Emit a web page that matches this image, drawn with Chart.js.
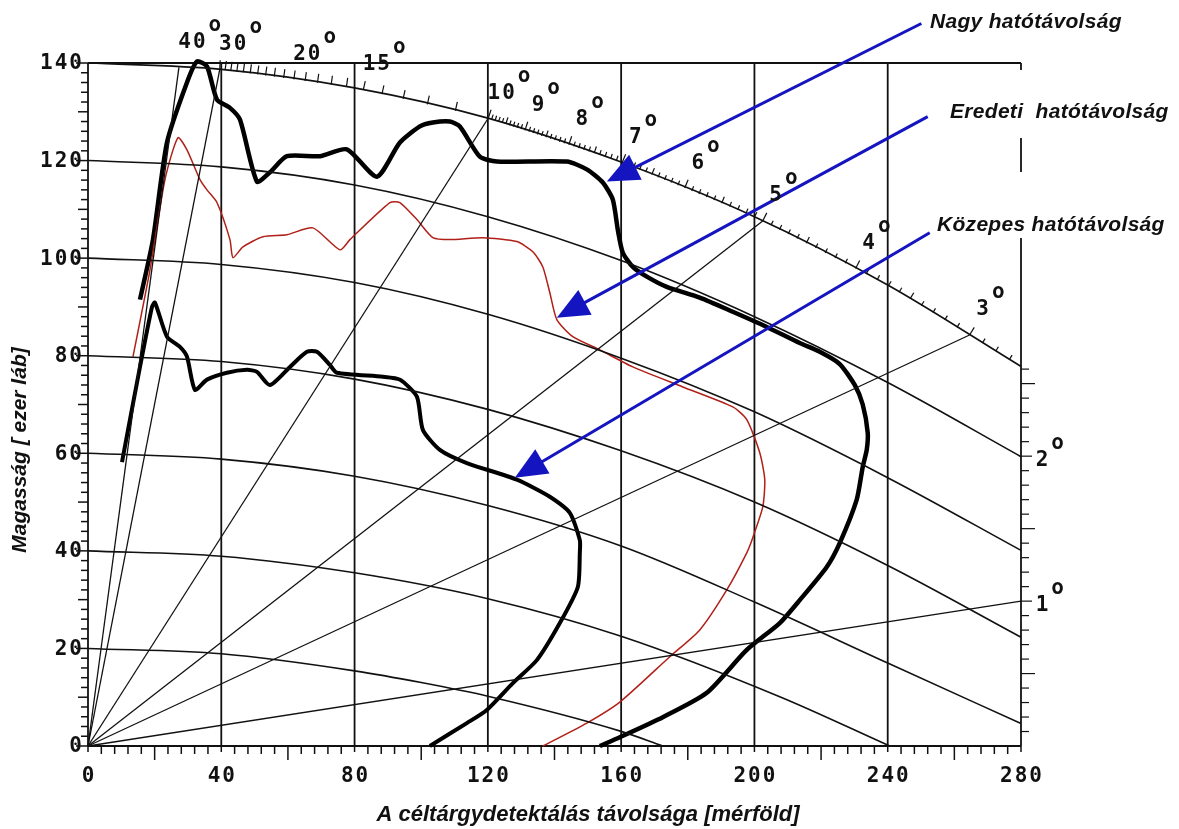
<!DOCTYPE html>
<html lang="hu">
<head>
<meta charset="UTF-8">
<title>Radar lefedettség</title>
<script src="https://cdn.jsdelivr.net/npm/chart.js"></script>
<style>
    html, body { margin: 0; padding: 0; background: #fff; }
    #wrap { width: 1179px; height: 829px; }
</style>
</head>
<body>
<div id="wrap"><canvas id="chart" width="1179" height="829"></canvas></div>
<script>
// axis tick labels
const xTicks = [0, 40, 80, 120, 160, 200, 240, 280];
const yTicks = [0, 20, 40, 60, 80, 100, 120, 140];

// constant height lines (ezer láb) as [range, plotted height]
const height20  = [[0, 20], [40, 18.9], [80, 15.4], [100, 13.0], [120, 10.2], [160, 3.0], [172.5, 0]];
const height40  = [[0, 40], [40, 38.9], [80, 35.5], [120, 30.2], [160, 22.5], [207.6, 10.1], [240.6, 0]];
const height60  = [[0, 60], [40, 58.8], [80, 55.3], [120, 49.3], [160, 41], [200, 29.5], [240, 17], [280, 4.6]];
const height80  = [[0, 80], [40, 78.8], [80, 75.2], [120, 69], [160, 60.5], [200, 50], [240, 37], [280, 22.3]];
const height100 = [[0, 100], [40, 98.7], [80, 95], [120, 88.5], [160, 79.5], [200, 68.5], [240, 55], [280, 40.1]];
const height120 = [[0, 120], [40, 118.7], [80, 115], [120, 108.5], [160, 99.5], [200, 88], [240, 74.5], [280, 59.3]];
const height140 = [[0, 140], [40, 138.7], [80, 134.9], [120, 128.7], [160, 119.7], [200, 108.5], [240, 94.5], [280, 77.8]];

// elevation rays drawn through the chart, and the labelled angles
const rayAngles = [1, 3, 5, 10, 30, 40];
const arcAngleLabels = [40, 30, 20, 15, 10, 9, 8, 7, 6, 5, 4, 3];
const edgeAngleLabels = [2, 1];

// coverage curves [range, height]
const nagyRange = [[15.6, 91.5], [19.5, 103.8], [23.7, 123.7], [29.7, 136], [32.7, 140.3], [35.7, 139.3],
    [38.7, 132.5], [42.6, 130.8], [45.6, 128.4], [50.7, 115.7], [54.6, 117.6], [59.7, 120.9], [69.6, 120.9],
    [77.7, 122.3], [86.7, 116.7], [93.6, 123.7], [99.6, 127], [103.5, 127.8], [108.6, 128], [111.6, 127],
    [117.6, 120.8], [122.7, 119.8], [143.7, 119.8], [149.7, 118.2], [154.5, 115.5], [157.5, 112],
    [159, 105.8], [160.5, 101.1], [163.5, 98.2], [167.7, 96.2], [173.7, 94.1], [183.6, 91.9], [193.5, 89],
    [203.7, 85.9], [213.6, 82.6], [219.6, 80.8], [225.6, 78.3], [230.1, 74], [232.5, 70], [234, 64.2],
    [233.7, 60.7], [232.5, 57.2], [230.7, 50.5], [225.6, 41.6], [221.7, 36.7], [213.6, 29.9], [207.6, 25.2],
    [197.7, 19.7], [185.7, 10.9], [172.5, 5.9], [159.6, 1.8], [153.6, 0]];
const eredetiRange = [[13.5, 79.8], [18.6, 97.6], [23.1, 116.1], [27, 124.7], [29.7, 122.2], [33.6, 116.1],
    [35.7, 114], [38.7, 111.4], [42.6, 103.8], [43.5, 100.1], [46.5, 102.3], [52.5, 104.4], [59.7, 104.8],
    [67.5, 106.2], [75.6, 101.7], [78.6, 103.8], [90.6, 111.4], [93.6, 111.4], [98.7, 107.9], [103.5, 104.2],
    [108.6, 103.8], [118.5, 104.2], [128.7, 103.4], [133.5, 101.3], [136.5, 98.2], [138.6, 92.9],
    [140.7, 87.4], [145.5, 83.9], [153.6, 81.2], [163.5, 77.7], [178.5, 73.6], [193.5, 69.5], [197.7, 66.9],
    [201.6, 60.1], [203.1, 54.6], [202.5, 49], [199.5, 42.7], [197.7, 39.6], [191.7, 32], [183.6, 23.8],
    [174.6, 18.3], [159.6, 9], [149.7, 4.7], [136.5, 0]];
const kozepesRange = [[10.2, 58.2], [15.6, 77.7], [19.2, 90], [20.1, 90.9], [23.7, 83.9], [27.6, 81.8],
    [29.7, 79.8], [32.1, 73], [35.7, 75.1], [41.7, 76.5], [47.7, 77.1], [50.7, 76.7], [54.6, 74], [60.6, 77.7],
    [65.7, 80.8], [68.7, 80.8], [72.6, 78.1], [74.7, 76.5], [88.5, 75.7], [93.6, 75.1], [98.7, 71.6],
    [100.5, 64.8], [105.6, 60.7], [113.7, 58], [128.7, 54.6], [138.6, 51.1], [144.6, 47.8], [147.6, 42.2],
    [147.6, 39.6], [147, 32.6], [141.6, 25.2], [134.7, 17.6], [127.5, 12.9], [119.7, 7.4], [113.7, 4.7],
    [102.6, 0]];

// callouts: text, arrow tail and tip in chart units
const callouts = [
    { text: 'Nagy hatótávolság', left: 930, mid: 22, tail: [250.1, 148.1], tip: [155.7, 115.7], clear: null },
    { text: 'Eredeti  hatótávolság', left: 950, mid: 112, tail: [252, 129], tip: [140.7, 87.8], clear: [-42, 26] },
    { text: 'Közepes hatótávolság', left: 937, mid: 225, tail: [252.6, 105.2], tip: [128.1, 55], clear: [-53, 13] }
];

const KFT_PER_MILE = 6.076;
const TICK_FONT = 'bold 21px "DejaVu Sans Mono"';
const TITLE_FONT = 'bold italic 22px "Liberation Sans"';
const YTITLE_FONT = 'bold italic 21px "Liberation Sans"';
const NOTE_FONT = 'bold italic 21px "Liberation Sans"';
const BLUE = '#1414c0';

const toPts = arr => arr.map(p => ({ x: p[0], y: p[1] }));

// where an elevation ray meets the 140 line (or the right edge)
function rayEnd(deg) {
    const k = Math.tan(deg * Math.PI / 180) * KFT_PER_MILE;
    for (let i = 0; i < height140.length - 1; i++) {
        const [x0, y0] = height140[i], [x1, y1] = height140[i + 1];
        const f0 = y0 - k * x0, f1 = y1 - k * x1;
        if (f0 >= 0 && f1 < 0) {
            const t = f0 / (f0 - f1);
            const xv = x0 + t * (x1 - x0);
            return { x: xv, y: k * xv, seg: i, onArc: true };
        }
    }
    return { x: 280, y: k * 280, seg: -1, onArc: false };
}

const datasets = [];
[height20, height40, height60, height80, height100, height120, height140].forEach(h => {
    datasets.push({ data: toPts(h), borderColor: '#111', borderWidth: 1.6, pointRadius: 0,
        cubicInterpolationMode: 'monotone', clip: false });
});
rayAngles.forEach(a => {
    const e = rayEnd(a);
    datasets.push({ data: [{ x: 0, y: 0 }, { x: e.x, y: e.y }], borderColor: '#111', borderWidth: 1.3,
        pointRadius: 0, clip: false });
});
datasets.push({ data: toPts(eredetiRange), borderColor: '#b02018', borderWidth: 1.5, pointRadius: 0, tension: 0.22, clip: false });
datasets.push({ data: toPts(nagyRange), borderColor: '#000', borderWidth: 4.5, pointRadius: 0, tension: 0.22, clip: false });
datasets.push({ data: toPts(kozepesRange), borderColor: '#000', borderWidth: 4, pointRadius: 0, tension: 0.22, clip: false });

function degLabel(ctx, text, cx, cy) {
    ctx.font = TICK_FONT;
    ctx.textAlign = 'center';
    ctx.textBaseline = 'middle';
    ctx.fillText(text, cx, cy);
    const w = ctx.measureText(text).width;
    ctx.textAlign = 'left';
    ctx.fillText('o', cx + w / 2 + 1, cy - 17);
}

const decor = {
    id: 'decor',
    beforeDraw(chart) {
        const { ctx, width, height } = chart;
        ctx.save();
        ctx.fillStyle = '#fff';
        ctx.fillRect(0, 0, width, height);
        ctx.restore();
    },
    beforeDatasetsDraw(chart) {
        const { ctx, chartArea: a, scales: { x, y } } = chart;
        ctx.save();
        ctx.strokeStyle = '#111';
        ctx.lineWidth = 1.8;
        xTicks.forEach(v => {
            const X = x.getPixelForValue(v);
            ctx.beginPath(); ctx.moveTo(X, a.top); ctx.lineTo(X, a.bottom); ctx.stroke();
        });
        ctx.lineWidth = 2.2;
        ctx.beginPath(); ctx.moveTo(a.left, a.bottom); ctx.lineTo(a.right, a.bottom); ctx.stroke();
        ctx.lineWidth = 1.8;
        ctx.beginPath(); ctx.moveTo(a.left, a.top); ctx.lineTo(a.right, a.top); ctx.stroke();
        // minor ticks
        ctx.lineWidth = 1.5;
        for (let v = 0; v <= 280; v += 4) {
            const len = v % 40 === 0 ? 6 : (v % 20 === 0 ? 14 : 8);
            const X = x.getPixelForValue(v);
            ctx.beginPath(); ctx.moveTo(X, a.bottom); ctx.lineTo(X, a.bottom + len); ctx.stroke();
        }
        for (let v = 0; v <= 140; v += 2) {
            const len = v % 20 === 0 ? 12 : (v % 10 === 0 ? 10 : 7);
            const Y = y.getPixelForValue(v);
            ctx.beginPath(); ctx.moveTo(a.left, Y); ctx.lineTo(a.left - len, Y); ctx.stroke();
        }
        ctx.restore();
    },
    afterDatasetsDraw(chart) {
        const { ctx, chartArea: a, scales: { x, y } } = chart;
        ctx.save();
        ctx.strokeStyle = '#111';
        ctx.fillStyle = '#111';
        ctx.lineWidth = 1.2;

        // elevation angle scale ticks: 0.1° steps below 10°, 1° steps up to 30°
        for (let t = 1; t <= 300; t += (t < 100 ? 1 : 10)) {
            const deg = t / 10;
            const e = rayEnd(deg);
            const X = x.getPixelForValue(e.x), Y = y.getPixelForValue(e.y);
            const major = t % 10 === 0, half = t % 5 === 0;
            if (e.onArc) {
                const [x0, y0] = height140[e.seg], [x1, y1] = height140[e.seg + 1];
                const tx = x.getPixelForValue(x1) - x.getPixelForValue(x0);
                const ty = y.getPixelForValue(y1) - y.getPixelForValue(y0);
                const l = Math.hypot(tx, ty);
                const len = major ? 9 : (half ? 7 : 5);
                ctx.beginPath(); ctx.moveTo(X, Y); ctx.lineTo(X + ty / l * len, Y - tx / l * len); ctx.stroke();
            } else {
                const len = major ? 11 : (half ? 14 : 8);
                ctx.beginPath(); ctx.moveTo(X, Y); ctx.lineTo(X + len, Y); ctx.stroke();
            }
        }

        // callout masks, text and arrows
        callouts.forEach(c => {
            ctx.font = NOTE_FONT;
            ctx.letterSpacing = '0.3px';
            const w = ctx.measureText(c.text).width;
            if (c.clear) {
                ctx.fillStyle = '#fff';
                ctx.fillRect(c.left - 4, c.mid + c.clear[0], w + 8, c.clear[1] - c.clear[0]);
            }
            ctx.fillStyle = '#111';
            ctx.textAlign = 'left';
            ctx.textBaseline = 'middle';
            ctx.fillText(c.text, c.left, c.mid);
            ctx.letterSpacing = '0px';

            const x0 = x.getPixelForValue(c.tail[0]), y0 = y.getPixelForValue(c.tail[1]);
            const x1 = x.getPixelForValue(c.tip[0]), y1 = y.getPixelForValue(c.tip[1]);
            const dx = x1 - x0, dy = y1 - y0, l = Math.hypot(dx, dy);
            const ux = dx / l, uy = dy / l, head = 32, hw = 14;
            const bx = x1 - ux * head, by = y1 - uy * head;
            ctx.strokeStyle = BLUE;
            ctx.fillStyle = BLUE;
            ctx.lineWidth = 3;
            ctx.beginPath(); ctx.moveTo(x0, y0); ctx.lineTo(bx + ux * 2, by + uy * 2); ctx.stroke();
            ctx.beginPath();
            ctx.moveTo(x1, y1);
            ctx.lineTo(bx - uy * hw, by + ux * hw);
            ctx.lineTo(bx + uy * hw, by - ux * hw);
            ctx.closePath(); ctx.fill();
        });

        // angle labels
        ctx.fillStyle = '#111';
        ctx.letterSpacing = '2px';
        arcAngleLabels.forEach(d => {
            const e = rayEnd(d);
            degLabel(ctx, String(d), x.getPixelForValue(e.x) + 14, y.getPixelForValue(e.y) - 25);
        });
        edgeAngleLabels.forEach(d => {
            const e = rayEnd(d);
            degLabel(ctx, String(d), x.getPixelForValue(e.x) + 22, y.getPixelForValue(e.y) + 4);
        });

        // tick labels
        ctx.font = TICK_FONT;
        ctx.textBaseline = 'middle';
        ctx.textAlign = 'center';
        xTicks.forEach(v => ctx.fillText(String(v), x.getPixelForValue(v) + 1, a.bottom + 31));
        ctx.textAlign = 'right';
        yTicks.forEach(v => ctx.fillText(String(v), a.left - 4, y.getPixelForValue(v) + 1));
        ctx.letterSpacing = '0px';

        // axis titles
        ctx.font = TITLE_FONT;
        ctx.textAlign = 'center';
        ctx.fillText('A céltárgydetektálás távolsága [mérföld]', 588, 815);
        ctx.font = YTITLE_FONT;
        ctx.translate(20, 450);
        ctx.rotate(-Math.PI / 2);
        ctx.fillText('Magasság [ ezer láb]', 0, 0);
        ctx.restore();
    }
};

new Chart(document.getElementById('chart'), {
    type: 'line',
    data: { datasets },
    options: {
        responsive: false,
        animation: false,
        layout: { padding: { left: 88, right: 158, top: 63, bottom: 83 } },
        scales: {
            x: { type: 'linear', min: 0, max: 280, display: false },
            y: { type: 'linear', min: 0, max: 140, display: false }
        },
        plugins: { legend: { display: false }, tooltip: { enabled: false } }
    },
    plugins: [decor]
});
</script>
</body>
</html>
